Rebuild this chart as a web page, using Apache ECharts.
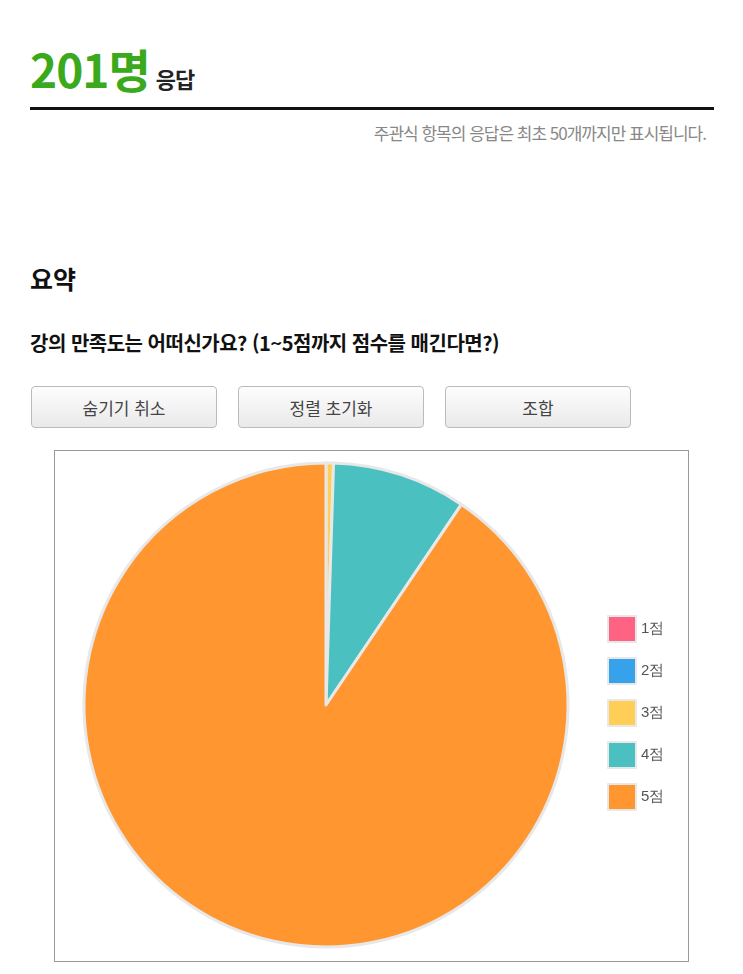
<!DOCTYPE html>
<html lang="ko">
<head>
<meta charset="UTF-8">
<title>요약</title>
<style>
  body { margin: 0; background: #fff; font-family: "Noto Sans CJK KR", "Noto Sans", sans-serif; }
  .wrap { position: relative; width: 743px; height: 974px; }
  .count { position: absolute; left: 30px; top: 38px; color: #3aaa1c; font-size: 46px; font-weight: bold; letter-spacing: -1px; line-height: 60px; }
  .count span { color: #222; font-size: 22px; font-weight: bold; margin-left: 6px; }
  .rule { position: absolute; left: 30px; top: 107px; width: 684px; height: 3px; background: #111; }
  .note { position: absolute; right: 37px; top: 120px; color: #888; font-size: 17px; letter-spacing: -1px; }
  .sum { position: absolute; left: 30px; top: 260px; font-size: 25px; font-weight: bold; color: #111; }
  .q { position: absolute; left: 30px; top: 328px; font-size: 20px; font-weight: bold; color: #111; letter-spacing: -0.5px; }
  .btn { position: absolute; top: 386px; width: 186px; height: 42px; border: 1px solid #bbb; border-radius: 4px;
         background: linear-gradient(#fdfdfd, #e9e9e9); color: #444; font-size: 17px; text-align: center; line-height: 42px; box-sizing: border-box; }
  #main { position: absolute; left: 54px; top: 450px; width: 635px; height: 512px; border: 1px solid #999; box-sizing: border-box; }
</style>
</head>
<body>
<div class="wrap">
  <div class="count">201명<span>응답</span></div>
  <div class="rule"></div>
  <div class="note">주관식 항목의 응답은 최초 50개까지만 표시됩니다.</div>
  <div class="sum">요약</div>
  <div class="q">강의 만족도는 어떠신가요? (1~5점까지 점수를 매긴다면?)</div>
  <div class="btn" style="left:31px">숨기기 취소</div>
  <div class="btn" style="left:238px">정렬 초기화</div>
  <div class="btn" style="left:445px">조합</div>
  <div id="main"></div>
</div>
<script src="https://cdn.jsdelivr.net/npm/echarts@6/dist/echarts.min.js"></script>
<script>
  var labels = ['1점', '2점', '3점', '4점', '5점'];
  var counts = [0, 0, 1, 18, 182];
  var colors = ['#ff6384', '#36a2eb', '#ffce56', '#4bc0c0', '#ff9630'];

  var myChart = echarts.init(document.getElementById('main'));
  var data = labels.map(function (name, i) {
    return { name: name, value: counts[i], itemStyle: { color: colors[i] } };
  });
  myChart.setOption({
    animation: false,
    legend: {
      orient: 'vertical',
      left: 547, top: 159,
      itemWidth: 28, itemHeight: 26, itemGap: 14,
      icon: 'rect',
      data: labels,
      textStyle: { color: '#555', fontSize: 15, letterSpacing: -1 }
    },
    series: [{
      type: 'pie',
      center: [271, 254],
      radius: [0, 242],
      startAngle: 90,
      minShowLabelAngle: 0,
      stillShowZeroSum: false,
      label: { show: false },
      labelLine: { show: false },
      itemStyle: { borderColor: '#e8e8e8', borderWidth: 3 },
      data: data
    }]
  });
</script>
</body>
</html>
